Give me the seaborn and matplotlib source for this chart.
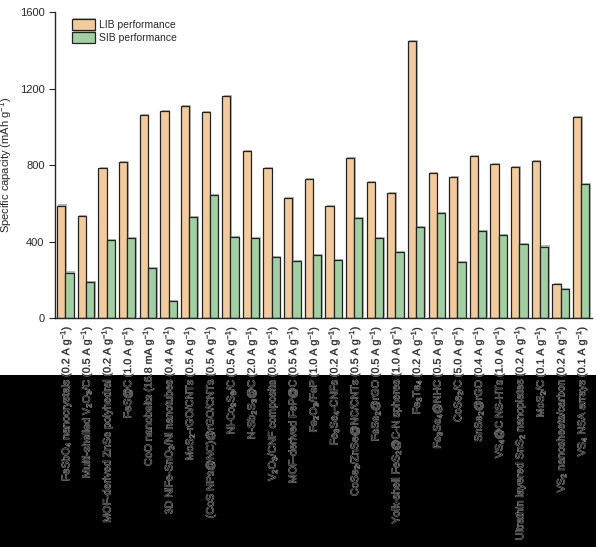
import pandas as pd
import matplotlib
matplotlib.use("Agg")
import matplotlib.pyplot as plt
import matplotlib.patheffects as pe
from matplotlib.patches import Rectangle
import seaborn as sns

# dados
materiais = [
    "FeSbO$_4$ nanocrystals (0.2 A g$^{-1}$)",
    "Multi-shelled V$_2$O$_3$/C (0.5 A g$^{-1}$)",
    "MOF-derived ZnSe polyhedral (0.2 A g$^{-1}$)",
    "FeS@C (1.0 A g$^{-1}$)",
    "CoO nanobelts (16.8 mA g$^{-1}$)",
    "3D NiFe-SnO$_2$/Ni nanotubes (0.4 A g$^{-1}$)",
    "MoS$_2$-rGO/CNTs (0.5 A g$^{-1}$)",
    "(CoS NPs@NC)@rGO/CNTs (0.5 A g$^{-1}$)",
    "Ni-Co$_9$S$_8$/C (0.5 A g$^{-1}$)",
    "N-Sb$_2$S$_3$@C (2.0 A g$^{-1}$)",
    "V$_2$O$_3$/CNF composite (0.5 A g$^{-1}$)",
    "MOF-derived FeP@C (0.5 A g$^{-1}$)",
    "Fe$_2$O$_3$/FeP (1.0 A g$^{-1}$)",
    "Fe$_3$Se$_4$-CNFs (0.2 A g$^{-1}$)",
    "CoSe$_2$/ZnSe@NC/CNTs (0.5 A g$^{-1}$)",
    "FeSe$_2$@rGO (0.5 A g$^{-1}$)",
    "Yolk-shell FeS$_2$@C-N spheres (1.0 A g$^{-1}$)",
    "Fe$_3$Te$_4$ (0.2 A g$^{-1}$)",
    "Fe$_3$Se$_4$@NHC (0.5 A g$^{-1}$)",
    "CoSe$_2$/C (5.0 A g$^{-1}$)",
    "SnSe$_2$@rGO (0.4 A g$^{-1}$)",
    "VS$_4$@C NS-HTs (1.0 A g$^{-1}$)",
    "Ultrathin layered SnS$_2$ nanoplates (0.2 A g$^{-1}$)",
    "MoS$_2$/C (0.1 A g$^{-1}$)",
    "VS$_2$ nanosheets/carbon (0.2 A g$^{-1}$)",
    "VS$_4$ NSA arrays (0.1 A g$^{-1}$)",
]
lib = [588, 533, 782, 815, 1063, 1080, 1110, 1075, 1162, 873, 782, 627, 727,
       586, 835, 709, 654, 1448, 760, 737, 847, 803, 791, 822, 179, 1053]
sib = [238, 188, 409, 418, 261, 87, 530, 641, 423, 418, 317, 298, 331,
       303, 524, 416, 345, 476, 549, 293, 453, 434, 385, 374, 150, 702]

sns.set_style("ticks")
plt.rcParams['font.family'] = ['Liberation Sans', 'DejaVu Sans']
plt.rcParams['mathtext.fontset'] = 'custom'
plt.rcParams['mathtext.rm'] = 'Liberation Sans'
plt.rcParams['mathtext.it'] = 'Liberation Sans:italic'
plt.rcParams['mathtext.bf'] = 'Liberation Sans:bold'

df = pd.DataFrame({
    'material': materiais * 2,
    'capacidade': lib + sib,
    'serie': ['LIB performance'] * len(lib) + ['SIB performance'] * len(sib),
})

fig = plt.figure(figsize=(5.96, 5.47), dpi=100)
# faixa preta na parte de baixo (fundo transparente do original)
fig.patches.append(Rectangle((0, 0), 1, 0.3144, transform=fig.transFigure,
                             facecolor='black', edgecolor='none', zorder=-10))
ax = fig.add_axes([0.0923, 0.4186, 0.9002, 0.5594])

sns.barplot(data=df, x='material', y='capacidade', hue='serie',
            palette=['#FFCC8F', '#9AD59B'], edgecolor='#222222', linewidth=0.9,
            width=0.8, ax=ax)

for barra in ax.patches:
    barra.set_path_effects([pe.SimplePatchShadow(offset=(1.0, 0.8), shadow_rgbFace='#888888', alpha=0.6),
                            pe.Normal()])

ax.set_xlim(-0.5, 25.5)
ax.set_ylim(0, 1600)
ax.set_yticks([0, 400, 800, 1200, 1600])
ax.set_xlabel('')
ax.set_ylabel('Specific capacity (mAh g$^{-1}$)', fontsize=8, labelpad=4)
ax.tick_params(axis='y', labelsize=8, direction='out', length=4, width=0.8)
ax.tick_params(axis='x', labelsize=7.7, length=0, pad=6)
plt.setp(ax.get_xticklabels(), rotation=90, ha='center', va='top',
         path_effects=[pe.withStroke(linewidth=0.5, foreground='#b0b0b0')])
sns.despine(ax=ax)
for lado in ['left', 'bottom']:
    ax.spines[lado].set_linewidth(1.0)

leg = ax.legend(loc='upper left', bbox_to_anchor=(0.02, 0.998), frameon=False,
                fontsize=7.5, handlelength=2.2, handleheight=1.3,
                handletextpad=0.4, labelspacing=0.15, borderaxespad=0.2)

fig.savefig('out.png', dpi=100)
